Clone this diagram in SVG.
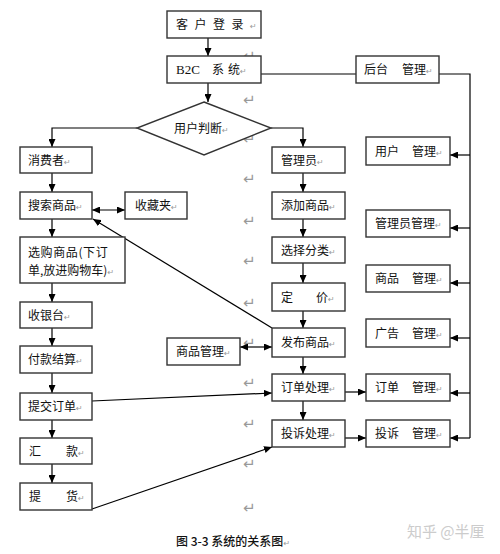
<svg xmlns="http://www.w3.org/2000/svg" width="500" height="554" viewBox="0 0 500 554">
<defs>
<marker id="ah" viewBox="0 0 8 7" refX="8" refY="3.5" markerWidth="8" markerHeight="7" markerUnits="userSpaceOnUse" orient="auto-start-reverse"><path d="M0,0 L8,3.5 L0,7 z" fill="#000"/></marker>
<style>
.b{fill:#fff;stroke:#333;stroke-width:1.4}
.t{font-family:"Noto Sans CJK SC","Noto Sans",sans-serif;font-size:12px;fill:#111}
.r{font-family:"DejaVu Sans",sans-serif;font-size:8px;fill:#999}
.pm{font-family:"DejaVu Sans",sans-serif;font-size:15px;fill:#999}
.c{fill:none;stroke:#000;stroke-width:1.2}
.a{marker-end:url(#ah)}
.d{marker-start:url(#ah);marker-end:url(#ah)}
</style>
</defs>
<rect width="500" height="554" fill="#fff"/>
<g id="paramarks" class="pm">
<text x="243" y="61">↵</text>
<text x="243" y="105">↵</text>
<text x="243" y="144">↵</text>
<text x="243" y="184">↵</text>
<text x="243" y="226">↵</text>
<text x="243" y="266">↵</text>
<text x="243" y="308">↵</text>
<text x="243" y="348">↵</text>
<text x="243" y="388">↵</text>
<text x="243" y="429">↵</text>
<text x="243" y="469">↵</text>
<text x="243" y="513">↵</text>
</g>
<g id="connectors">
<line class="c a" x1="208" y1="38" x2="208" y2="56"/>
<line class="c a" x1="208" y1="76" x2="208" y2="102"/>
<polyline class="c a" points="137,128 52,128 52,147"/>
<polyline class="c a" points="271,128 303,128 303,147"/>
<line class="c" x1="261" y1="74" x2="356" y2="74"/>
<polyline class="c" points="439,74 470,74 470,438"/>
<line class="c a" x1="470" y1="155" x2="450" y2="155"/>
<line class="c a" x1="470" y1="228" x2="450" y2="228"/>
<line class="c a" x1="470" y1="283" x2="450" y2="283"/>
<line class="c a" x1="470" y1="338" x2="450" y2="338"/>
<line class="c a" x1="470" y1="393" x2="450" y2="393"/>
<line class="c a" x1="470" y1="438" x2="450" y2="438"/>
<line class="c a" x1="52" y1="173" x2="52" y2="192"/>
<line class="c d" x1="92" y1="210" x2="125" y2="210"/>
<line class="c a" x1="52" y1="219" x2="52" y2="237"/>
<line class="c a" x1="52" y1="283" x2="52" y2="302"/>
<line class="c a" x1="52" y1="328" x2="52" y2="346"/>
<line class="c a" x1="52" y1="373" x2="52" y2="393"/>
<line class="c a" x1="52" y1="420" x2="52" y2="438"/>
<line class="c a" x1="52" y1="464" x2="52" y2="483"/>
<line class="c a" x1="303" y1="173" x2="303" y2="192"/>
<line class="c a" x1="303" y1="219" x2="303" y2="237"/>
<line class="c a" x1="303" y1="263" x2="303" y2="283"/>
<line class="c a" x1="303" y1="311" x2="303" y2="328"/>
<line class="c a" x1="303" y1="357" x2="303" y2="374"/>
<line class="c a" x1="303" y1="401" x2="303" y2="420"/>
<line class="c d" x1="240" y1="347" x2="272" y2="347"/>
<line class="c a" x1="272" y1="328" x2="93" y2="219"/>
<line class="c a" x1="92" y1="401" x2="272" y2="393"/>
<line class="c a" x1="92" y1="509" x2="272" y2="447"/>
<line class="c a" x1="345" y1="392" x2="366" y2="392"/>
<line class="c a" x1="345" y1="438" x2="366" y2="438"/>
</g>
<g id="login"><rect class="b" x="167" y="11" width="94" height="27"/><text class="t" x="176" y="29" letter-spacing="6.5">客户登录<tspan class="r" letter-spacing="0">↵</tspan></text></g>
<g id="b2c"><rect class="b" x="167" y="56" width="94" height="27"/><text class="t" x="176" y="74"><tspan font-family="Liberation Serif" font-size="13">B2C</tspan><tspan x="212">系</tspan><tspan x="228">统</tspan><tspan class="r">↵</tspan></text></g>
<g id="backend"><rect class="b" x="356" y="56" width="83" height="27"/><text class="t" x="364" y="74">后台<tspan x="402">管理</tspan><tspan class="r">↵</tspan></text></g>
<g id="judge"><polygon class="b" points="204,102 271,128 204,155 137,128"/><text class="t" x="174" y="133">用户判断<tspan class="r">↵</tspan></text></g>
<g id="consumer"><rect class="b" x="20" y="147" width="72" height="26"/><text class="t" x="28" y="164.5">消费者<tspan class="r">↵</tspan></text></g>
<g id="search"><rect class="b" x="20" y="192" width="72" height="27"/><text class="t" x="28" y="210">搜索商品<tspan class="r">↵</tspan></text></g>
<g id="favorites"><rect class="b" x="125" y="192" width="62" height="27"/><text class="t" x="135" y="210">收藏夹<tspan class="r">↵</tspan></text></g>
<g id="select"><rect class="b" x="20" y="237" width="105" height="46"/><text class="t" x="28" y="257" letter-spacing="0.6">选购商品(下订</text><text class="t" x="28" y="275">单,放进购物车)<tspan class="r">↵</tspan></text></g>
<g id="cashier"><rect class="b" x="20" y="302" width="72" height="26"/><text class="t" x="28" y="319.5">收银台<tspan class="r">↵</tspan></text></g>
<g id="pay"><rect class="b" x="20" y="346" width="72" height="27"/><text class="t" x="28" y="364">付款结算<tspan class="r">↵</tspan></text></g>
<g id="submit"><rect class="b" x="20" y="393" width="72" height="27"/><text class="t" x="28" y="411">提交订单<tspan class="r">↵</tspan></text></g>
<g id="remit"><rect class="b" x="20" y="438" width="72" height="26"/><text class="t" x="29" y="455.5">汇<tspan x="66">款</tspan><tspan class="r">↵</tspan></text></g>
<g id="pickup"><rect class="b" x="20" y="483" width="72" height="27"/><text class="t" x="29" y="501">提<tspan x="66">货</tspan><tspan class="r">↵</tspan></text></g>
<g id="admin"><rect class="b" x="272" y="147" width="73" height="26"/><text class="t" x="281" y="164.5">管理员<tspan class="r">↵</tspan></text></g>
<g id="addgoods"><rect class="b" x="272" y="192" width="73" height="27"/><text class="t" x="281" y="210">添加商品<tspan class="r">↵</tspan></text></g>
<g id="category"><rect class="b" x="272" y="237" width="73" height="26"/><text class="t" x="281" y="254.5">选择分类<tspan class="r">↵</tspan></text></g>
<g id="price"><rect class="b" x="272" y="283" width="73" height="28"/><text class="t" x="281" y="301.5">定<tspan x="316">价</tspan><tspan class="r">↵</tspan></text></g>
<g id="publish"><rect class="b" x="272" y="328" width="73" height="29"/><text class="t" x="281" y="347">发布商品<tspan class="r">↵</tspan></text></g>
<g id="goodsmgmt"><rect class="b" x="167" y="338" width="73" height="27"/><text class="t" x="176" y="356">商品管理<tspan class="r">↵</tspan></text></g>
<g id="orderproc"><rect class="b" x="272" y="374" width="73" height="27"/><text class="t" x="281" y="392">订单处理<tspan class="r">↵</tspan></text></g>
<g id="complproc"><rect class="b" x="272" y="420" width="73" height="27"/><text class="t" x="281" y="438">投诉处理<tspan class="r">↵</tspan></text></g>
<g id="usermgmt"><rect class="b" x="366" y="137" width="84" height="28"/><text class="t" x="375" y="155.5">用户<tspan x="412">管理</tspan><tspan class="r">↵</tspan></text></g>
<g id="adminmgmt"><rect class="b" x="366" y="210" width="84" height="27"/><text class="t" x="375" y="228">管理员管理<tspan class="r">↵</tspan></text></g>
<g id="productmgmt"><rect class="b" x="366" y="265" width="84" height="27"/><text class="t" x="375" y="283">商品<tspan x="412">管理</tspan><tspan class="r">↵</tspan></text></g>
<g id="admgmt"><rect class="b" x="366" y="319" width="84" height="28"/><text class="t" x="375" y="337.5">广告<tspan x="412">管理</tspan><tspan class="r">↵</tspan></text></g>
<g id="ordermgmt"><rect class="b" x="366" y="374" width="84" height="27"/><text class="t" x="375" y="392">订单<tspan x="412">管理</tspan><tspan class="r">↵</tspan></text></g>
<g id="complmgmt"><rect class="b" x="366" y="420" width="84" height="27"/><text class="t" x="375" y="438">投诉<tspan x="412">管理</tspan><tspan class="r">↵</tspan></text></g>
<g id="caption"><text class="t" x="176" y="546" font-weight="500">图 3-3 系统的关系图<tspan class="r">↵</tspan></text></g>
<g id="watermark"><text x="407" y="537" font-family="Noto Sans CJK SC,sans-serif" font-size="15" fill="#ccc">知乎 @半厘</text></g>
</svg>
